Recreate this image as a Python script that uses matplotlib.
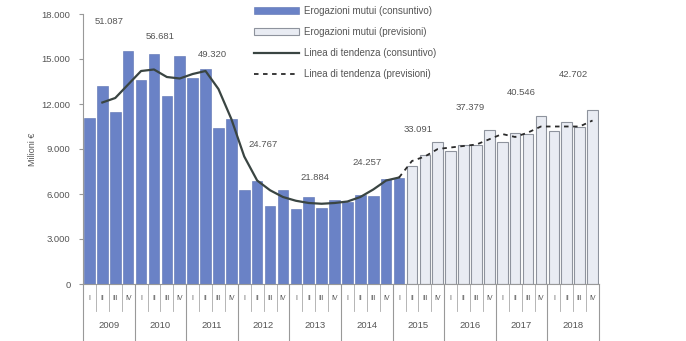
import matplotlib
matplotlib.use("Agg")
import matplotlib.pyplot as plt
import numpy as np
from matplotlib.patches import Patch
from matplotlib.lines import Line2D
import matplotlib.transforms as mtransforms

plt.rcParams['font.family'] = ['Liberation Sans', 'DejaVu Sans']

years = ["2009", "2010", "2011", "2012", "2013", "2014", "2015", "2016", "2017", "2018"]
quarters = ["I", "II", "III", "IV"]

# quarterly disbursements (million €), actual (consuntivo): 2009 Q1 .. 2015 Q1
actual = [11.1, 13.2, 11.5, 15.5,
          13.6, 15.3, 12.5, 15.2,
          13.7, 14.3, 10.4, 11.0,
          6.3, 6.9, 5.2, 6.3,
          5.0, 5.8, 5.1, 5.6,
          5.5, 5.95, 5.85, 7.0,
          7.1]
actual = [v * 1000 for v in actual]

# forecasts (previsioni): 2015 Q2 .. 2018 Q4
forecast = [7.9, 8.6, 9.5,
            8.9, 9.25, 9.25, 10.3,
            9.5, 10.1, 10.0, 11.2,
            10.2, 10.8, 10.5, 11.6]
forecast = [v * 1000 for v in forecast]

# trend line (consuntivo), 2009 Q2 .. 2015 Q1
trend_actual = [12.1, 12.4, 13.3, 14.2, 14.3, 13.8, 13.7, 14.0, 14.2, 13.0, 11.0,
                8.5, 6.9, 6.25, 5.8, 5.55, 5.4, 5.35, 5.4, 5.5, 5.8, 6.3, 6.9, 7.1]
trend_actual = [v * 1000 for v in trend_actual]

# trend line (previsioni), 2015 Q1 .. 2018 Q4
trend_forecast = [7.1, 8.2, 8.5, 9.0, 9.1, 9.2, 9.3, 9.65, 10.0, 9.8, 10.1,
                  10.5, 10.5, 10.5, 10.5, 10.9]
trend_forecast = [v * 1000 for v in trend_forecast]

# annual totals labels
annual_labels = ["51.087", "56.681", "49.320", "24.767", "21.884",
                 "24.257", "33.091", "37.379", "40.546", "42.702"]

# label vertical positions (layout)
label_y = [17500, 16500, 15300, 9300, 7100, 8100, 10300, 11750, 12750, 13950]

fig = plt.figure(figsize=(6.86, 3.41), dpi=100)
ax = fig.add_axes([83/686, 1 - 284/341, 516/686, 270/341])

n_act = len(actual)
n_fc = len(forecast)
x_act = np.arange(n_act)
x_fc = np.arange(n_act, n_act + n_fc)

blue = "#6a82c6"
ax.bar(x_act, actual, width=0.82, color=blue, edgecolor="#5a70b0", linewidth=0.4, zorder=2)
ax.bar(x_fc, forecast, width=0.82, color="#e9ecf3", edgecolor="#8e939d", linewidth=0.8, zorder=2)

ax.plot(np.arange(1, 1 + len(trend_actual)), trend_actual, color="#3a4542", lw=1.6, zorder=3)
ax.plot(np.arange(n_act - 1, n_act - 1 + len(trend_forecast)), trend_forecast,
        color="#2a2a2a", lw=1.3, ls=(0, (2.5, 2.5)), zorder=3)

for k, (lab, yy) in enumerate(zip(annual_labels, label_y)):
    ax.text(4 * k + 1.5, yy, lab, ha="center", va="center", fontsize=6.8, color="#555555")

ax.set_xlim(-0.5, 39.5)
ax.set_ylim(0, 18000)
yt = [0, 3000, 6000, 9000, 12000, 15000, 18000]
ax.set_yticks(yt)
ax.set_yticklabels([f"{v:,}".replace(",", ".") for v in yt], fontsize=6.8, color="#555555")
ax.tick_params(axis="y", length=3, color="#999999", width=0.8, pad=6)
ax.set_xticks([])
for s in ["top", "right"]:
    ax.spines[s].set_visible(False)
ax.spines["left"].set_color("#999999")
ax.spines["bottom"].set_color("#999999")
ax.set_ylabel("Milioni €", fontsize=6.5, color="#555555", labelpad=3)

trans = mtransforms.blended_transform_factory(ax.transData, ax.transAxes)
# quarter separators and labels
for i in range(40):
    q = i % 4
    ax.text(i, -0.052, quarters[q], transform=trans, ha="center", va="center",
            fontsize=5, color="#555555", clip_on=False)
for b in range(41):
    xb = b - 0.5
    if b % 4 == 0:
        ax.plot([xb, xb], [0, -0.21], transform=trans, color="#999999", lw=0.8, clip_on=False)
    else:
        ax.plot([xb, xb], [0, -0.1], transform=trans, color="#aaaaaa", lw=0.6, clip_on=False)
for k, yr in enumerate(years):
    ax.text(4 * k + 1.5, -0.152, yr, transform=trans, ha="center", va="center",
            fontsize=6.8, color="#555555", clip_on=False)

handles = [Patch(facecolor=blue, edgecolor="#5a70b0", linewidth=0.4),
           Patch(facecolor="#e9ecf3", edgecolor="#8e939d", linewidth=0.8),
           Line2D([], [], color="#3a4542", lw=1.6),
           Line2D([], [], color="#2a2a2a", lw=1.3, ls=(0, (2.5, 2.5)))]
labels = ["Erogazioni mutui (consuntivo)", "Erogazioni mutui (previsioni)",
          "Linea di tendenza (consuntivo)", "Linea di tendenza (previsioni)"]
fig.legend(handles, labels, loc="upper left", bbox_to_anchor=(252/686, 1 - 4/341),
           frameon=False, fontsize=7, handlelength=4.6, handleheight=0.8,
           labelspacing=1.15, labelcolor="#555555", borderaxespad=0, borderpad=0.2,
           handletextpad=0.6)

fig.savefig("out.png", dpi=100)
